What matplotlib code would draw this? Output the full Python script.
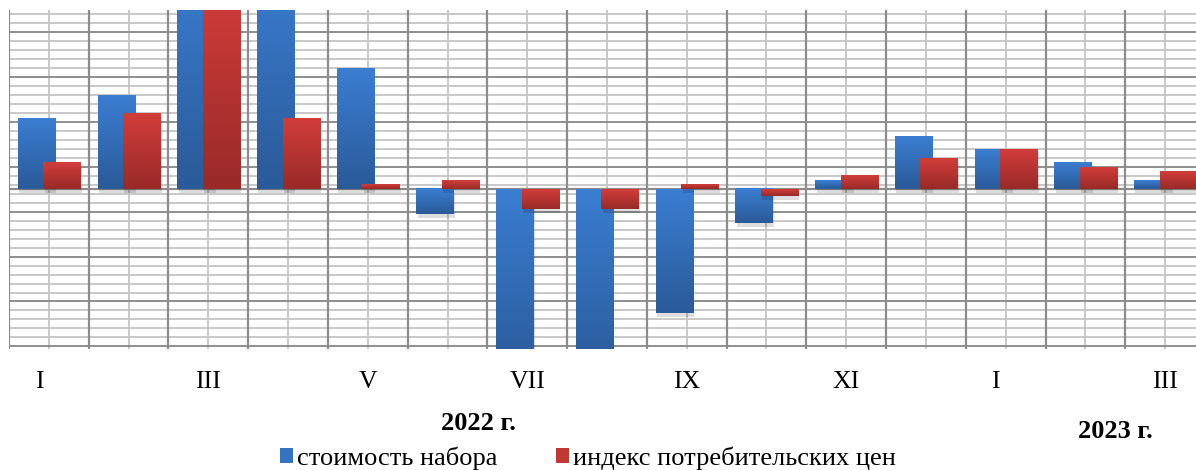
import numpy as np
import matplotlib
matplotlib.use('Agg')
import matplotlib.pyplot as plt
import matplotlib.patheffects as pe
import matplotlib.transforms as mtransforms
from matplotlib.patches import Patch
from matplotlib.colors import LinearSegmentedColormap

# Данные (месяцы 2022-2023 гг.)
months = ['I', 'II', 'III', 'IV', 'V', 'VI', 'VII', 'VIII', 'IX', 'X', 'XI', 'XII', 'I', 'II', 'III']
cost = [1.58, 2.09, 5.0, 5.0, 2.69, -0.56, -4.2, -4.2, -2.76, -0.76, 0.18, 1.18, 0.89, 0.58, 0.18]
cpi = [0.58, 1.69, 4.5, 1.58, 0.09, 0.18, -0.44, -0.44, 0.09, -0.15, 0.29, 0.69, 0.89, 0.49, 0.38]
labels = ['стоимость набора', 'индекс потребительских цен']
years = ['2022 г.', '2023 г.']

plt.rcParams['font.family'] = ['Liberation Serif', 'DejaVu Serif']

fig = plt.figure(figsize=(11.96, 4.70), dpi=100)
ax = fig.add_axes([9 / 1196, 121 / 470, 1.0, 339 / 470])

x = np.arange(len(months))
ymin, ymax = -3.56, 4.0

blue_cmap = LinearSegmentedColormap.from_list('b', ['#2a5a98', '#3b7ed2'])
red_cmap = LinearSegmentedColormap.from_list('r', ['#982a28', '#d23d3a'])


def gradient_bars(bars, cmap, z):
    grad = np.linspace(0, 1, 256).reshape(-1, 1)
    for b in bars:
        bx, by = b.get_x(), b.get_y()
        w, h = b.get_width(), b.get_height()
        y0, y1 = (by, by + h) if h >= 0 else (by + h, by)
        img = ax.imshow(grad, cmap=cmap, extent=[bx, bx + w, y0, y1], origin='lower',
                        aspect='auto', zorder=z + 0.1, interpolation='bilinear')
        img.set_clip_path(b)
        img.set_clip_box(ax.bbox)


shadow = [pe.SimplePatchShadow(offset=(1, -2.5), shadow_rgbFace='black', alpha=0.13), pe.Normal()]
b1 = ax.bar(x - 0.157, cost, width=0.465, color='#3269b5', zorder=3, path_effects=shadow)
b2 = ax.bar(x + 0.163, cpi, width=0.465, color='#b83331', zorder=4, path_effects=shadow)
gradient_bars(b1, blue_cmap, 3)
gradient_bars(b2, red_cmap, 4)

ax.set_xlim(-0.5, len(months) - 0.5)
ax.set_ylim(ymin, ymax)

# сетка
major_c, minor_c = '#8c8c8c', '#c4c4c4'
for yv in np.arange(-3.5, 4.0, 0.2):
    ax.axhline(yv, color=minor_c, lw=1.3, zorder=1)
for yv in np.arange(-3.5, 4.0, 1.0):
    ax.axhline(yv, color=major_c, lw=1.3, zorder=1.2)
for xv in x:
    ax.axvline(xv, color=minor_c, lw=1.3, zorder=1)
for xv in np.arange(-0.5, len(months), 1.0):
    ax.axvline(xv, color=major_c, lw=1.6, zorder=1.2)
ax.axhline(0, color=major_c, lw=1.6, zorder=2)

for s in ['top', 'right', 'bottom', 'left']:
    ax.spines[s].set_visible(False)
ax.set_yticks([])
ax.set_xticks(x)
ax.set_xticklabels([m if i % 2 == 0 else '' for i, m in enumerate(months)], fontsize=18.5)
ax.tick_params(axis='x', length=0, pad=16)
# подписи "I" в оригинале чуть левее центра
shift = mtransforms.ScaledTranslation(-10 / 100, 0, fig.dpi_scale_trans)
for lbl in ax.get_xticklabels():
    if lbl.get_text() == 'I':
        lbl.set_transform(lbl.get_transform() + shift)

fig.text(478 / 1196, 1 - 423 / 470, years[0], ha='center', va='center', fontsize=19, fontweight='bold')
fig.text(1115 / 1196, 1 - 432 / 470, years[1], ha='center', va='center', fontsize=19, fontweight='bold')

handles = [Patch(facecolor='#3572c0'), Patch(facecolor='#c03734')]
fig.legend(handles, labels, loc='center', bbox_to_anchor=(588 / 1196, 1 - 458 / 470), ncol=2,
           frameon=False, fontsize=19, handlelength=0.5, handleheight=0.5,
           handletextpad=0.15, columnspacing=2.2, borderpad=0)

fig.savefig('out.png', dpi=100)
